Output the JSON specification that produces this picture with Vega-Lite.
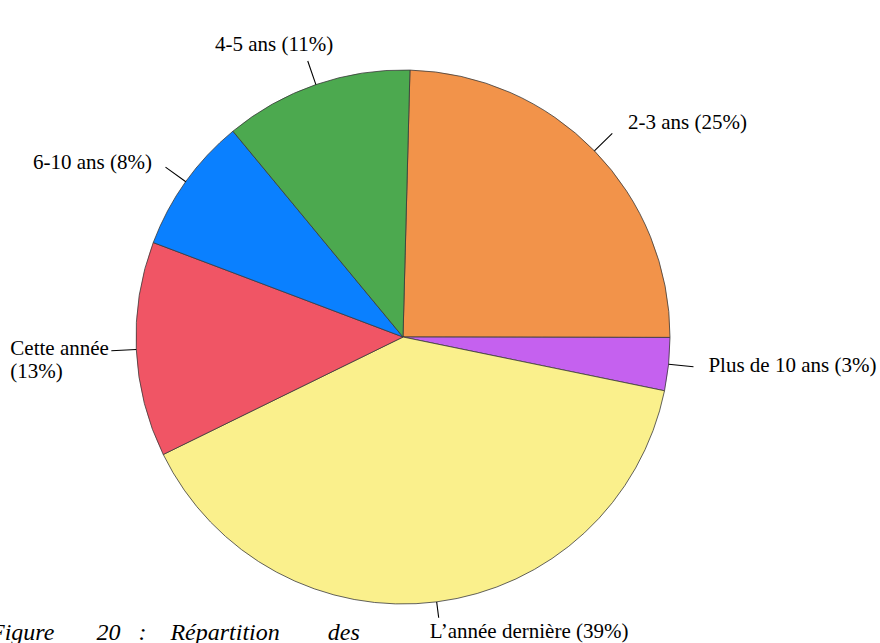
{
  "$schema": "https://vega.github.io/schema/vega-lite/v6.json",
  "width": 806,
  "height": 612,
  "autosize": {"type": "none"},
  "padding": {"left": 0, "top": 31, "right": 74, "bottom": 0},
  "background": "white",
  "config": {"view": {"stroke": null}},
  "title": {
    "text": "Figure\u00a0\u00a0\u00a0\u00a0\u00a0\u00a0\u00a020\u00a0\u00a0\u00a0:\u00a0\u00a0\u00a0\u00a0Répartition\u00a0\u00a0\u00a0\u00a0\u00a0\u00a0\u00a0\u00a0des",
    "orient": "bottom",
    "anchor": "start",
    "frame": "group",
    "offset": -6,
    "baseline": "alphabetic",
    "dx": -10,
    "font": "Liberation Serif",
    "fontSize": 24,
    "fontStyle": "italic",
    "fontWeight": "normal",
    "color": "black"
  },
  "data": {
    "values": [
      {"idx": 1, "category": "2-3 ans", "value": 24.6, "label": "2-3 ans (25%)"},
      {"idx": 2, "category": "Plus de 10 ans", "value": 3.2, "label": "Plus de 10 ans (3%)"},
      {"idx": 3, "category": "L’année dernière", "value": 39.5, "label": "L’année dernière (39%)"},
      {"idx": 4, "category": "Cette année", "value": 13.0, "label": "Cette année\n(13%)"},
      {"idx": 5, "category": "6-10 ans", "value": 8.25, "label": "6-10 ans (8%)"},
      {"idx": 6, "category": "4-5 ans", "value": 11.4, "label": "4-5 ans (11%)"}
    ]
  },
  "encoding": {
    "theta": {"field": "value", "type": "quantitative", "stack": true, "scale": {"range": [0.026, 6.3092]}},
    "order": {"field": "idx", "type": "quantitative", "sort": "ascending"}
  },
  "layer": [
    {
      "mark": {"type": "arc", "radius": 267, "stroke": "#3a3a3a", "strokeWidth": 0.8},
      "encoding": {
        "color": {
          "field": "category",
          "type": "nominal",
          "scale": {
            "domain": ["2-3 ans", "Plus de 10 ans", "L’année dernière", "Cette année", "6-10 ans", "4-5 ans"],
            "range": ["#F2934A", "#C561EF", "#FAF08C", "#F05565", "#0A80FF", "#4CA94F"]
          },
          "legend": null
        }
      }
    },
    {
      "mark": {"type": "arc", "radius": 292, "radius2": 267, "padAngle": 3, "fillOpacity": 0, "stroke": "black", "strokeWidth": 1.1},
      "encoding": {"strokeOpacity": {"condition": {"test": "datum.idx === 3", "value": 0}, "value": 1}}
    },
    {
      "mark": {"type": "arc", "radius": 283, "radius2": 267, "padAngle": 3, "fillOpacity": 0, "stroke": "black", "strokeWidth": 1.1},
      "encoding": {"strokeOpacity": {"condition": {"test": "datum.idx === 3", "value": 1}, "value": 0}}
    },
    {
      "mark": {"type": "text", "radius": 300, "align": "left", "dx": 10, "dy": 1, "baseline": "alphabetic", "font": "Liberation Serif", "fontSize": 21, "fill": "black"},
      "encoding": {"text": {"field": "label"}, "opacity": {"condition": {"test": "datum.idx === 1", "value": 1}, "value": 0}}
    },
    {
      "mark": {"type": "text", "radius": 300, "align": "left", "dx": 7, "dy": 4, "baseline": "alphabetic", "font": "Liberation Serif", "fontSize": 21, "fill": "black"},
      "encoding": {"text": {"field": "label"}, "opacity": {"condition": {"test": "datum.idx === 2", "value": 1}, "value": 0}}
    },
    {
      "mark": {"type": "text", "radius": 300, "align": "left", "dx": -11, "dy": 3, "baseline": "alphabetic", "font": "Liberation Serif", "fontSize": 21, "fill": "black"},
      "encoding": {"text": {"field": "label"}, "opacity": {"condition": {"test": "datum.idx === 3", "value": 1}, "value": 0}}
    },
    {
      "mark": {"type": "text", "radius": 300, "align": "left", "dx": -93, "dy": 4, "baseline": "alphabetic", "lineBreak": "\n", "lineHeight": 23, "font": "Liberation Serif", "fontSize": 21, "fill": "black"},
      "encoding": {"text": {"field": "label"}, "opacity": {"condition": {"test": "datum.idx === 4", "value": 1}, "value": 0}}
    },
    {
      "mark": {"type": "text", "radius": 300, "align": "right", "dx": -7, "dy": 7, "baseline": "alphabetic", "font": "Liberation Serif", "fontSize": 21, "fill": "black"},
      "encoding": {"text": {"field": "label"}, "opacity": {"condition": {"test": "datum.idx === 5", "value": 1}, "value": 0}}
    },
    {
      "mark": {"type": "text", "radius": 300, "align": "right", "dx": 28, "dy": -2, "baseline": "alphabetic", "font": "Liberation Serif", "fontSize": 21, "fill": "black"},
      "encoding": {"text": {"field": "label"}, "opacity": {"condition": {"test": "datum.idx === 6", "value": 1}, "value": 0}}
    }
  ]
}
